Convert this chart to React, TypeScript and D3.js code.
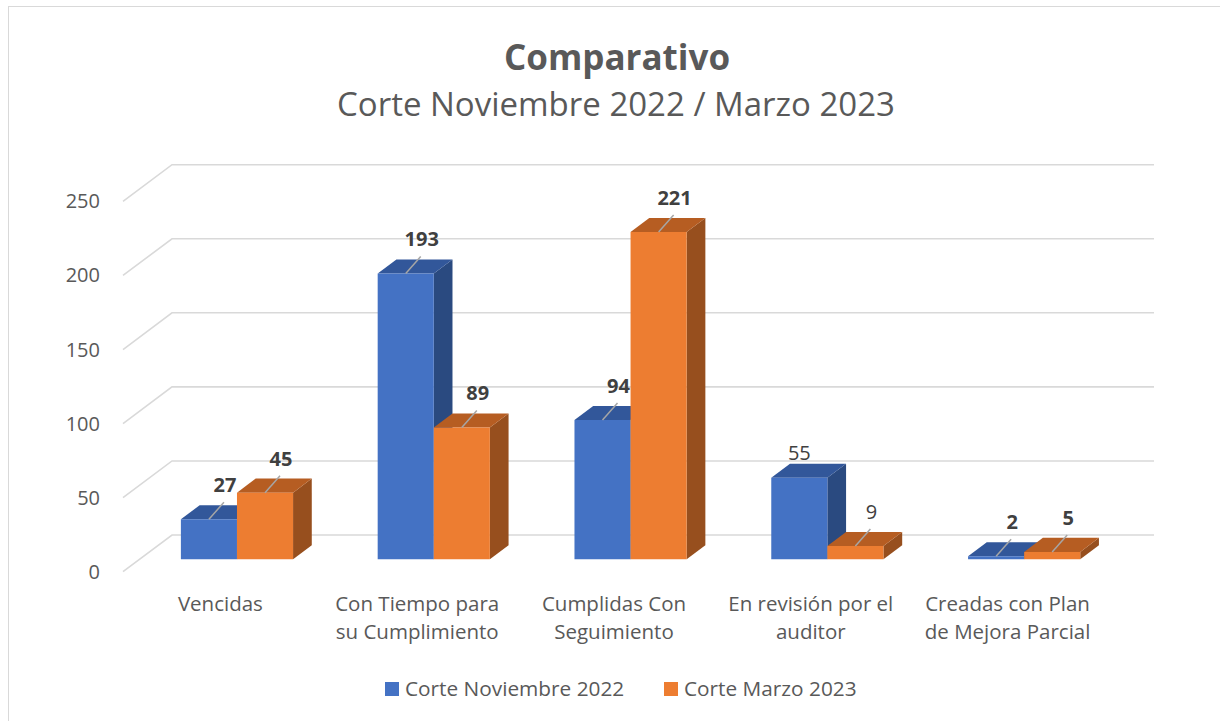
import React from "react";
import * as d3 from "d3";

const categories: string[][] = [
  ["Vencidas"],
  ["Con Tiempo para", "su Cumplimiento"],
  ["Cumplidas Con", "Seguimiento"],
  ["En revisión por el", "auditor"],
  ["Creadas con Plan", "de Mejora Parcial"],
];
const seriesNames = ["Corte Noviembre 2022", "Corte Marzo 2023"];
const nov2022 = [27, 193, 94, 55, 2];
const mar2023 = [45, 89, 221, 9, 5];
const yTicks = [0, 50, 100, 150, 200, 250];
// label style flags
const labelBold = [
  [true, true, true, false, true],
  [true, true, true, false, true],
];
const labelLeader = [
  [true, true, true, false, true],
  [true, true, true, true, true],
];

const seriesValues = [nov2022, mar2023];
const colors = [
  { front: "#4472C4", top: "#32579A", side: "#2A4A80" },
  { front: "#ED7D31", top: "#B65D22", side: "#974F1E" },
];

const FONT = "'Open Sans', 'Noto Sans', sans-serif";
const W = 1220;
const Hh = 721;
const OX = 123;
const OY = 571.7;
const PW = 982;
const DX = 49;
const DY = -36.7;
const Z0 = 0.338;
const Z1 = 0.72;

export default function App() {
  const catIdx = categories.map((_, i) => String(i));
  const xBand = d3.scaleBand<string>().domain(catIdx).range([0, PW]).paddingInner(0.43).paddingOuter(0.21);
  const xSeries = d3.scaleBand<string>().domain(seriesNames).range([0, xBand.bandwidth()]);
  const hScale = d3.scaleLinear().domain([0, 250]).range([0, 370.3]);

  const P = (x: number, v: number, z: number): [number, number] => [OX + x + z * DX, OY - hScale(v) + z * DY];
  const poly = (pts: [number, number][]) => pts.map((p) => p.join(",")).join(" ");

  const bars: React.ReactNode[] = [];
  const labels: React.ReactNode[] = [];
  categories.forEach((_, ci) => {
    seriesNames.forEach((sn, si) => {
      const v = seriesValues[si][ci];
      const x0 = (xBand(String(ci)) as number) + (xSeries(sn) as number);
      const x1 = x0 + xSeries.bandwidth();
      const c = colors[si];
      bars.push(
        <g key={`b${ci}-${si}`}>
          <polygon points={poly([P(x1, 0, Z0), P(x1, 0, Z1), P(x1, v, Z1), P(x1, v, Z0)])} fill={c.side} />
          <polygon points={poly([P(x0, v, Z0), P(x1, v, Z0), P(x1, v, Z1), P(x0, v, Z1)])} fill={c.top} />
          <polygon points={poly([P(x0, 0, Z0), P(x1, 0, Z0), P(x1, v, Z0), P(x0, v, Z0)])} fill={c.front} />
        </g>
      );
      const [cx, ty] = P((x0 + x1) / 2, v, Z0);
      if (labelLeader[si][ci]) {
        labels.push(
          <g key={`l${ci}-${si}`}>
            <line x1={cx} y1={ty} x2={cx + 15} y2={ty - 17} stroke="#A6A6A6" strokeWidth={1.5} />
            <text x={cx + 16} y={ty - 27} textAnchor="middle" fontFamily={FONT} fontSize={20}
              fontWeight={labelBold[si][ci] ? 700 : 400} fill="#404040">{v}</text>
          </g>
        );
      } else {
        labels.push(
          <text key={`l${ci}-${si}`} x={cx} y={ty - 18} textAnchor="middle" fontFamily={FONT} fontSize={20}
            fontWeight={labelBold[si][ci] ? 700 : 400} fill="#404040">{v}</text>
        );
      }
    });
  });

  const legendX = [385, 664];

  return (
    <svg width={W} height={Hh} style={{ position: "absolute", left: 0, top: 0, background: "#fff" }}>
      <rect x={8.5} y={6.5} width={1230} height={730} fill="#fff" stroke="#D9D9D9" strokeWidth={1} />
      <text x={617} y={70} textAnchor="middle" fontFamily={FONT} fontSize={35} fontWeight={700} fill="#595959">Comparativo</text>
      <text x={616} y={116} textAnchor="middle" fontFamily={FONT} fontSize={33} fill="#595959">Corte Noviembre 2022 / Marzo 2023</text>

      {yTicks.map((t) => (
        <polyline key={`g${t}`} points={poly([P(0, t, 0), P(0, t, 1), P(PW, t, 1)])} fill="none" stroke="#D9D9D9" strokeWidth={1.6} />
      ))}
      {yTicks.map((t) => (
        <text key={`t${t}`} x={100} y={P(0, t, 0)[1] + 7} textAnchor="end" fontFamily={FONT} fontSize={20} fill="#595959">{t}</text>
      ))}

      {bars}
      {labels}

      {categories.map((lines, ci) => {
        const cx = P((xBand(String(ci)) as number) + xBand.bandwidth() / 2, 0, 0)[0];
        return (
          <text key={`c${ci}`} textAnchor="middle" fontFamily={FONT} fontSize={20.5} fill="#595959">
            {lines.map((ln, li) => (
              <tspan key={li} x={cx} y={611 + li * 28}>{ln}</tspan>
            ))}
          </text>
        );
      })}

      {seriesNames.map((sn, si) => (
        <g key={`lg${si}`}>
          <rect x={legendX[si]} y={682} width={14} height={14} fill={colors[si].front} />
          <text x={legendX[si] + 20} y={696} fontFamily={FONT} fontSize={20.8} fill="#595959">{sn}</text>
        </g>
      ))}
    </svg>
  );
}
